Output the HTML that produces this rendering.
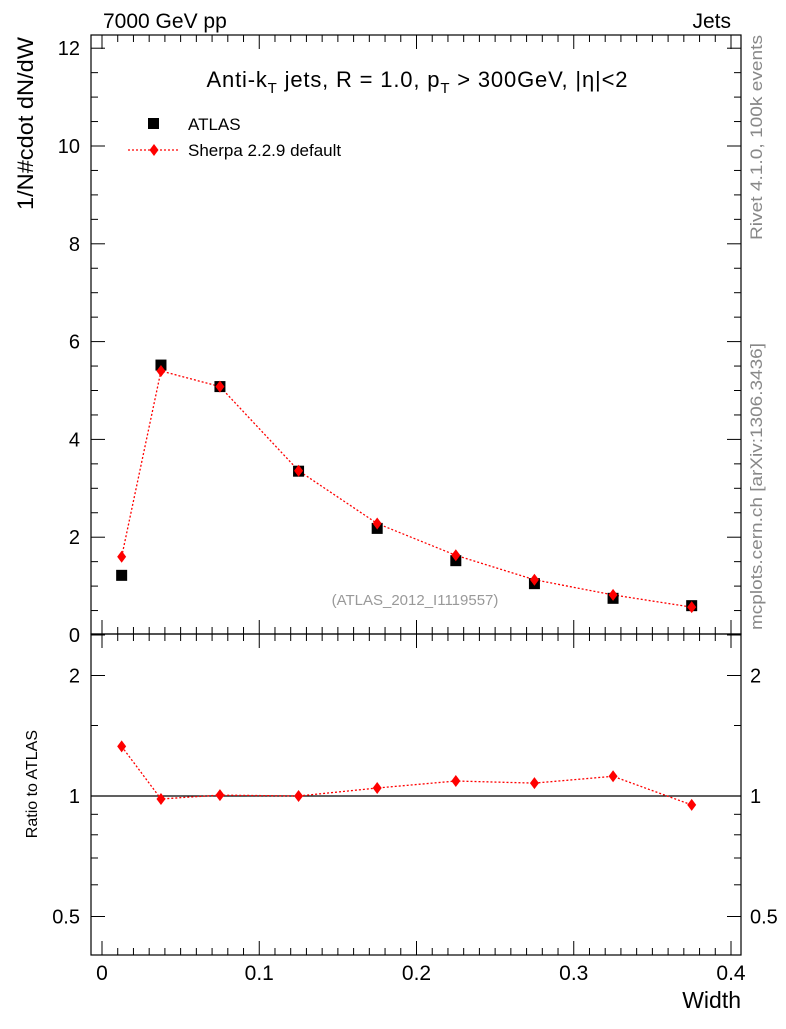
<!DOCTYPE html>
<html><head><meta charset="utf-8"><style>
body{margin:0;background:#fff;}
svg{font-family:"Liberation Sans",sans-serif;}
</style></head><body>
<svg id="c" width="786" height="1024" viewBox="0 0 786 1024"></svg>
<script>
const xCenters=[0.0125,0.0375,0.075,0.125,0.175,0.225,0.275,0.325,0.375];
const atlasVals=[1.22,5.52,5.08,3.35,2.18,1.52,1.05,0.75,0.60];
const sherpaVals=[1.60,5.40,5.08,3.36,2.28,1.63,1.13,0.82,0.57];
const ratioVals=[1.33,0.983,1.005,1.0,1.047,1.09,1.077,1.12,0.95];
const xTicks=[0,0.1,0.2,0.3,0.4];
const yTicks=[0,2,4,6,8,10,12];
const rTicks=[0.5,1,2];

const NS='http://www.w3.org/2000/svg';
const svg=document.getElementById('c');
const L=91,R=741,T=35,M=634,B=955;
const X=v=>102+v*1572.5;
const Y=v=>635-v*48.9;
const RY=v=>796-Math.log2(v)*120.5;
function el(tag,attrs,parent){const e=document.createElementNS(NS,tag);for(const k in attrs)e.setAttribute(k,attrs[k]);(parent||svg).appendChild(e);return e;}
function txt(s,x,y,size,anchor,fill,extra){const t=el('text',Object.assign({x:x,y:y,'font-size':size,'text-anchor':anchor||'start',fill:fill||'#000'},extra||{}));t.textContent=s;return t;}

const f1=el('rect',{x:L,y:T,width:R-L,height:M-T,fill:'none',stroke:'#000','stroke-width':1.2});


const f2=el('rect',{x:L,y:M,width:R-L,height:B-M,fill:'none',stroke:'#000','stroke-width':1.2});



for(let i=0;i<=40;i++){const v=i/100;const x=X(v);if(x>R)break;const len=(i%10==0)?14:7;
 for(const [yb,yt] of [[M,T],[B,M]]){el('line',{x1:x,x2:x,y1:yb,y2:yb-len,stroke:'#000'});el('line',{x1:x,x2:x,y1:yt,y2:yt+len,stroke:'#000'});}}
for(let i=0;i<xTicks.length;i++){const t=txt(String(xTicks[i]),X(xTicks[i]),980,21,'middle');}
for(let v=0;v<=12.25;v+=0.5){const y=Y(v);if(y<T)break;const len=(v%2==0)?14:7;
 el('line',{x1:L,x2:L+len,y1:y,y2:y,stroke:'#000'});el('line',{x1:R,x2:R-len,y1:y,y2:y,stroke:'#000'});}
for(let i=0;i<yTicks.length;i++){const t=txt(String(yTicks[i]),80,Y(yTicks[i])+7,20,'end');}
const rMinor=[0.5,0.6,0.7,0.8,0.9,1,1.5,2];
for(const v of rMinor){const y=RY(v);const len=rTicks.includes(v)?14:7;
 el('line',{x1:L,x2:L+len,y1:y,y2:y,stroke:'#000'});el('line',{x1:R,x2:R-len,y1:y,y2:y,stroke:'#000'});}
for(let i=0;i<rTicks.length;i++){const v=rTicks[i];
 const a=txt(String(v),80,RY(v)+7,20,'end');
 const b=txt(String(v),750,RY(v)+7,20,'start');}
const ref=el('line',{x1:L,x2:R,y1:RY(1),y2:RY(1),stroke:'#000','stroke-width':1.2});



const pts=xCenters.map((x,i)=>X(x)+','+Y(sherpaVals[i])).join(' ');
const sl=el('polyline',{points:pts,fill:'none',stroke:'#f00','stroke-width':1.3,'stroke-dasharray':'2,2'});


for(let i=0;i<xCenters.length;i++){const r=el('rect',{x:X(xCenters[i])-5.5,y:Y(atlasVals[i])-5.5,width:11,height:11,fill:'#000'});
 
 }
function diamond(cx,cy){return `${cx},${cy-6} ${cx+4.5},${cy} ${cx},${cy+6} ${cx-4.5},${cy}`;}
for(let i=0;i<xCenters.length;i++){const d=el('polygon',{points:diamond(X(xCenters[i]),Y(sherpaVals[i])),fill:'#f00'});
 
 }
const rpts=xCenters.map((x,i)=>X(x)+','+RY(ratioVals[i])).join(' ');
const rl=el('polyline',{points:rpts,fill:'none',stroke:'#f00','stroke-width':1.3,'stroke-dasharray':'2,2'});


for(let i=0;i<xCenters.length;i++){const d=el('polygon',{points:diamond(X(xCenters[i]),RY(ratioVals[i])),fill:'#f00'});
 
 }

const lr=el('rect',{x:148,y:118,width:11,height:11,fill:'#000'});


const lt1=txt('ATLAS',188,130,17,'start');


const ll=el('line',{x1:128,x2:180,y1:150,y2:150,stroke:'#f00','stroke-width':1.3,'stroke-dasharray':'2,2'});


const ld=el('polygon',{points:diamond(154,150),fill:'#f00'});


const lt2=txt('Sherpa 2.2.9 default',188,156,17,'start');



const t1=txt('7000 GeV pp',103,28,21,'start');
const t2=txt('Jets',731,28,21,'end');
const ti=el('text',{x:417,y:87,'font-size':22,'text-anchor':'middle','textLength':421,'lengthAdjust':'spacing'});
ti.innerHTML='Anti-k<tspan font-size="15" dy="6">T</tspan><tspan dy="-6"> jets, R = 1.0, p</tspan><tspan font-size="15" dy="6">T</tspan><tspan dy="-6"> &gt; 300GeV, |η|&lt;2</tspan>';


const an=txt('(ATLAS_2012_I1119557)',415,605,15,'middle','#999');
const yl=txt('1/N#cdot dN/dW',0,0,22,'end','#000',{transform:'translate(33,37) rotate(-90)',textLength:173,lengthAdjust:'spacingAndGlyphs'});
const ry=txt('Ratio to ATLAS',0,0,16,'end','#000',{transform:'translate(37,730) rotate(-90)'});
const xl=txt('Width',741,1008,23,'end');
const rv=txt('Rivet 4.1.0,  100k events',0,0,17,'end','#888',{transform:'translate(762,35) rotate(-90)',textLength:205,lengthAdjust:'spacingAndGlyphs'});
const mc=txt('mcplots.cern.ch [arXiv:1306.3436]',0,0,17,'end','#888',{transform:'translate(762,343) rotate(-90)',textLength:287,lengthAdjust:'spacingAndGlyphs'});
</script>
</body></html>
